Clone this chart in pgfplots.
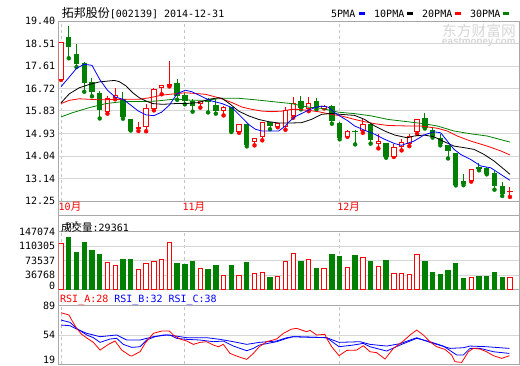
\documentclass[border=0pt]{standalone}
\usepackage{pgfplots}
\pgfplotsset{compat=1.18}
\usepackage{pgfplotstable}
\usepackage{fontspec}
\setmainfont{DejaVu Sans Mono}
\setmonofont{DejaVu Sans Mono}
\newfontfamily\cjk[Scale=1.2]{Noto Sans CJK SC}
\newfontfamily\cjks[Scale=1.05]{Noto Sans CJK SC}
\newfontfamily\wmfont{Liberation Sans}
\definecolor{kred}{RGB}{255,0,0}
\definecolor{kgreen}{RGB}{0,128,0}
\definecolor{kblue}{RGB}{0,0,255}
\definecolor{framec}{RGB}{168,168,168}
\definecolor{gridc}{RGB}{214,214,214}
\definecolor{dashc}{RGB}{196,196,196}
\definecolor{wmc}{RGB}{214,214,214}

\pgfplotstableread{
i o h l c v
0 17.06 18.54 17.06 18.54 116285
6 15.81 16.43 15.72 16.34 67512
7 16.35 16.74 16.29 16.46 61608
10 15.12 15.40 15.03 15.18 52110
11 15.22 16.09 15.02 15.92 64945
12 15.94 16.75 15.85 16.67 70079
13 16.74 16.86 16.49 16.83 77010
14 16.84 17.82 16.80 16.87 118852
18 16.14 16.22 15.96 16.20 53907
21 15.86 16.02 15.65 15.96 35938
23 15.02 15.30 14.96 15.27 35938
25 14.63 14.77 14.46 14.75 41842
26 14.83 15.39 14.66 15.35 44409
28 15.20 15.33 15.18 15.32 33371
29 15.19 15.98 15.08 15.85 71876
30 15.65 16.38 15.56 16.12 92412
32 15.93 16.39 15.82 16.12 77010
34 15.93 16.06 15.93 16.01 53907
37 14.81 15.06 14.80 15.00 56474
39 15.07 15.50 14.96 15.27 82144
41 14.55 14.92 14.34 14.61 59041
43 14.00 14.50 14.00 14.39 41072
44 14.41 14.70 14.26 14.59 41072
45 14.53 14.90 14.43 14.83 39275
46 15.03 15.52 14.92 15.47 89845
53 13.07 13.50 13.02 13.49 30804
58 12.63 12.81 12.41 12.64 29361
}\redtab

\pgfplotstableread{
i o h l c v
1 18.74 19.21 17.92 18.37 132457
2 18.06 18.50 17.57 17.72 93952
3 17.70 17.76 16.59 16.96 119622
4 16.95 17.12 16.41 16.59 98316
5 16.51 16.62 15.53 15.89 88048
8 16.29 16.57 15.52 15.61 75213
9 15.48 15.52 15.05 15.07 75213
15 16.92 17.11 16.27 16.46 64945
16 16.45 16.55 16.09 16.25 62378
17 16.22 16.30 15.80 16.06 70079
19 16.26 16.35 15.77 16.22 52110
20 16.06 16.29 15.72 15.85 59811
22 15.96 16.00 14.99 15.03 59811
24 15.27 15.32 14.42 14.50 67512
27 15.35 15.37 15.10 15.26 29777
31 16.22 16.42 15.89 15.98 70079
33 16.22 16.33 15.89 15.96 54677
35 16.01 16.06 15.32 15.45 88048
36 15.32 15.37 14.70 14.78 82914
38 15.03 15.06 14.50 15.00 85481
40 15.29 15.32 14.53 14.70 70079
42 14.53 14.57 13.97 14.02 72646
47 15.52 15.76 15.13 15.15 70079
48 15.07 15.14 14.77 14.87 44409
49 14.74 14.92 14.46 14.53 39275
50 14.46 14.47 13.94 14.24 49543
51 14.13 14.15 12.87 12.91 64945
52 13.02 13.31 12.88 12.96 29007
54 13.57 13.75 13.47 13.53 34141
55 13.56 13.59 13.31 13.33 34141
56 13.33 13.44 12.70 12.88 44409
57 12.84 12.99 12.45 12.54 31574
}\greentab

\pgfplotsset{
  panel/.style={anchor=south west, width=460.3pt, scale only axis,
    xmin=-0.3, xmax=59.17, axis line style={draw=framec, line width=0.9pt},
    major tick length=0pt, tick style={draw=none},
    every tick label/.append style={font=\fontsize{10}{12}\selectfont},
    grid style={line width=0.8pt}},
  mainp/.style={panel, at={(58.7pt,164pt)}, height=180pt, ymin=12.25, ymax=19.40},
  monthgrid/.style={xtick={0,16,36}, xmajorgrids, ymajorgrids,
    x grid style={dashc, dash pattern=on 3pt off 3pt},
    y grid style={gridc}},
}

\begin{document}
\begin{tikzpicture}[x=1pt,y=1pt]
\useasboundingbox (0,0) rectangle (520,365);

% strips between panels
\draw[framec, line width=0.9pt] (58.7,133.3) rectangle (519,164);
\draw[framec, line width=0.9pt] (58.7,149.3) -- (519,149.3);
\draw[framec, line width=0.9pt] (58.7,59.3) rectangle (519,75.5);

% watermark
\node[anchor=west, inner sep=0, text=wmc] at (442,334) {\cjk\fontsize{12.3}{14}\selectfont 东方财富网};
\node[anchor=west, inner sep=0, text=wmc] at (442,322.5) {\wmfont\bfseries\fontsize{9.8}{11}\selectfont eastmoney.com};

% main panel: frame, grid, wicks
\begin{axis}[mainp, monthgrid,
  ytick={12.25,13.14,14.04,14.93,15.83,16.72,17.61,18.51,19.40},
  yticklabels={12.25,13.14,14.04,14.93,15.83,16.72,17.61,18.51,19.40},
  xticklabels={{10{\cjks 月}},{11{\cjks 月}},{12{\cjks 月}}},
  xticklabel style={anchor=north west, xshift=-2.5pt, text=kred, inner sep=0pt, yshift=-1pt}]
\addplot[kred, only marks, mark=none, forget plot,
  error bars/.cd, y dir=plus, y explicit, error mark=none,
  error bar style={draw=kred, line width=1pt}]
  table[x=i, y=l, y error expr=\thisrow{h}-\thisrow{l}] {\redtab};
\addplot[kgreen, only marks, mark=none, forget plot,
  error bars/.cd, y dir=plus, y explicit, error mark=none,
  error bar style={draw=kgreen, line width=1pt}]
  table[x=i, y=l, y error expr=\thisrow{h}-\thisrow{l}] {\greentab};
\end{axis}

% red bodies
\begin{axis}[mainp, hide axis, ybar stacked, bar width=4.4pt]
\addplot[draw=none, fill=none] table[x=i, y=o] {\redtab};
\addplot[draw=kred, fill=white, line width=1pt] table[x=i, y expr=\thisrow{c}-\thisrow{o}] {\redtab};
\end{axis}

% green bodies
\begin{axis}[mainp, hide axis, ybar stacked, bar width=4.4pt]
\addplot[draw=none, fill=none] table[x=i, y=c] {\greentab};
\addplot[draw=kgreen, fill=kgreen, line width=1pt] table[x=i, y expr=\thisrow{o}-\thisrow{c}] {\greentab};
\end{axis}

% moving averages
\begin{axis}[mainp, hide axis]
\addplot[kgreen, line width=0.8pt] coordinates {(0,15.59)(1.51,15.76)(3.66,15.96)(5.81,16.12)(7.97,16.20)(10.12,16.20)(12.27,16.22)(14.77,16.30)(16.92,16.25)(18.65,16.25)(20.80,16.33)(22.95,16.33)(25.11,16.27)(27.26,16.20)(29.76,16.12)(31.91,15.98)(33.64,15.93)(35.79,15.78)(37.94,15.72)(40.10,15.63)(42.25,15.49)(44.75,15.40)(46.90,15.32)(48.62,15.23)(50.78,15.03)(52.93,14.92)(55.08,14.83)(58.01,14.59)};
\addplot[kred, line width=0.8pt] coordinates {(0,16.12)(1.08,16.25)(2.37,16.31)(3.66,16.29)(4.95,16.27)(7.97,16.29)(10.12,16.29)(11.41,16.35)(13.13,16.46)(14.77,16.51)(16.06,16.55)(18.65,16.49)(20.37,16.35)(22.09,16.16)(23.39,15.98)(24.68,15.89)(25.97,15.82)(27.26,15.80)(28.55,15.82)(29.76,15.89)(30.62,15.89)(31.91,15.85)(33.21,15.80)(34.93,15.69)(36.22,15.63)(37.94,15.49)(39.23,15.40)(40.53,15.32)(42.25,15.25)(44.75,15.23)(46.47,15.23)(48.62,15.14)(49.91,15.03)(51.21,14.83)(52.93,14.63)(55.08,14.43)(56.80,14.24)(58.01,14.08)};
\addplot[black, line width=0.8pt] coordinates {(0,16.15)(1.08,16.51)(2.37,16.75)(3.66,16.88)(4.95,16.98)(6.89,17.04)(7.54,16.99)(8.40,16.82)(9.26,16.55)(10.12,16.35)(10.98,16.22)(11.84,16.12)(13.13,16.09)(14.77,16.12)(16.06,16.12)(17.79,16.16)(19.08,16.29)(20.37,16.35)(20.80,16.33)(21.88,16.09)(22.95,15.82)(24.25,15.63)(25.54,15.49)(26.83,15.40)(28.12,15.35)(29.76,15.35)(31.05,15.36)(32.34,15.49)(33.64,15.69)(34.93,15.73)(36.22,15.69)(37.94,15.65)(39.23,15.49)(40.53,15.23)(41.82,15.03)(43.11,14.87)(44.75,14.76)(45.61,14.83)(46.90,14.87)(48.19,14.80)(49.48,14.61)(50.78,14.43)(52.07,14.37)(53.36,14.30)(54.65,14.10)(55.94,13.84)(57.24,13.51)(58.01,13.31)};
\addplot[kblue, line width=0.8pt] coordinates {(0,16.79)(1,17.15)(2,17.52)(3,17.68)(4,17.64)(5,17.08)(6,16.65)(7,16.38)(8,16.29)(9,16.06)(10,15.82)(11,15.67)(12,15.64)(13,15.78)(14,16.06)(14.99,16.51)(16.06,16.65)(16.92,16.59)(17.79,16.46)(18.65,16.33)(19.51,16.22)(20.80,16.12)(22.09,15.96)(23.39,15.56)(24.25,15.29)(25.11,15.10)(25.97,15.03)(27.26,15.03)(28.12,15.03)(28.99,15.23)(29.33,15.36)(30.19,15.59)(31.05,15.72)(31.91,15.85)(32.78,15.96)(33.64,16.02)(34.50,15.98)(35.36,15.76)(36.22,15.59)(37.08,15.43)(37.94,15.23)(39.23,15.06)(40.53,14.90)(41.82,14.70)(43.11,14.53)(43.97,14.46)(44.32,14.50)(45.61,14.63)(46.90,14.87)(48.19,15.00)(49.05,14.96)(49.91,14.63)(50.78,14.30)(51.64,14.10)(52.93,13.90)(54.22,13.64)(55.51,13.57)(56.80,13.31)(58.01,13.07)};
\end{axis}

% volume panel
\begin{axis}[panel, monthgrid, at={(58.7pt,75.5pt)}, height=57.8pt, ymin=0, ymax=147074,
  ytick={36768,73537,110305,147074}, yticklabels={36768,73537,110305,147074},
  xticklabels={}]
\addplot[ybar, bar width=4.4pt, bar shift=0pt, draw=kred, fill=white, line width=1pt] table[x=i, y=v] {\redtab};
\addplot[ybar, bar width=4.4pt, bar shift=0pt, draw=kgreen, fill=kgreen, line width=1pt] table[x=i, y=v] {\greentab};
\end{axis}

% RSI panel
\begin{axis}[panel, monthgrid, at={(58.7pt,0.7pt)}, height=58.6pt, ymin=19, ymax=89,
  ytick={54,89}, yticklabels={54,89}, xticklabels={}]
\addplot[kblue, line width=0.8pt] coordinates {(0,65.9)(1.16,65.1)(2.02,61.1)(3.32,56)(5.04,52)(6.33,53.2)(7.19,54)(8.48,48)(10.21,48)(11.93,52)(13.65,54)(14.51,53.2)(16.24,50.8)(18.82,50.8)(20.54,48.8)(22.27,46)(23.99,42.8)(25.62,45.2)(27.86,46.8)(29.16,50.8)(30.02,52)(34.32,50.8)(35.92,45.2)(38.63,46)(39.92,42.8)(42.08,40.8)(43.80,43.6)(45.95,50.8)(47.67,45.2)(50.26,38)(51.98,38.8)(52.84,40.8)(54.99,40)(57.93,38)};
\addplot[kblue, line width=0.8pt] coordinates {(0,71.9)(1.16,69.1)(2.02,61.9)(3.32,54)(4.18,50.8)(5.04,45.2)(6.33,49.2)(7.19,50)(8.05,42.8)(9.13,39.2)(10.21,40)(11.07,48)(12.14,52)(13.22,54)(14.08,54)(14.94,50)(16.24,48.8)(17.96,48)(19.68,46)(20.97,46.8)(22.27,40.8)(23.99,35.2)(24.85,38)(25.62,42)(27.86,46)(29.16,50)(30.02,52)(34.32,50.8)(35.92,40)(37.77,42)(39.06,44)(39.92,40)(42.08,34.8)(43.80,42)(45.95,50)(47.67,46)(49.40,40.8)(51.12,30.1)(51.98,30.1)(52.84,38)(54.13,38)(55.86,34)(57.93,32)};
\addplot[kred, line width=0.8pt] coordinates {(0,80.6)(1.03,77.9)(1.38,71.9)(2.02,61.9)(2.67,54.8)(3.40,50)(4.18,45.2)(5.04,36)(6.12,42.8)(6.98,46.8)(7.84,36)(8.91,29.3)(9.13,28.9)(10.21,34)(10.85,44)(11.93,56)(13.0,58.7)(14.0,58.7)(14.51,54)(15.37,49.2)(16.24,46.8)(17.1,42.8)(17.96,45.2)(18.82,46)(19.68,42)(20.33,40)(20.97,42.8)(21.83,32)(22.91,28.1)(23.99,24.9)(24.85,32)(25.62,40)(26.57,46)(27.86,49.2)(28.72,56)(29.80,61.1)(30.45,61.9)(31.74,57.9)(32.17,59.5)(33.03,54)(34.10,54.8)(34.32,50)(34.97,40)(35.92,29.3)(36.91,35.6)(38.20,36)(39.06,41.2)(39.92,34)(40.78,32.9)(41.86,25.3)(42.94,38)(44.23,46.8)(45.09,54)(45.95,59.9)(46.81,54)(47.67,46)(48.53,40)(49.61,36.8)(50.47,30.1)(50.90,22.1)(51.77,21.3)(52.63,34)(53.27,38)(54.13,37.2)(54.99,34)(55.86,29.3)(56.94,26.1)(57.93,29.3)};
\end{axis}

% texts
\node[anchor=west, inner sep=0] at (61.7,352) {{\cjk 拓邦股份}[002139] 2014-12-31};
\node[anchor=west, inner sep=0] at (331,351) {5PMA};
\fill[kblue] (359,350) rectangle (364.5,352.5);
\node[anchor=west, inner sep=0] at (374,351) {10PMA};
\fill[black] (407,350) rectangle (412.5,352.5);
\node[anchor=west, inner sep=0] at (422,351) {20PMA};
\fill[kred] (455,350) rectangle (460.5,352.5);
\node[anchor=west, inner sep=0] at (470,351) {30PMA};
\fill[kgreen] (503,350) rectangle (508.5,352.5);
\node[anchor=west, inner sep=0] at (61,137.5) {{\cjks 成交量}:29361};
\node[anchor=west, inner sep=0] at (60,65.5) {\textcolor{kred}{RSI\_A:28} \textcolor{kblue}{RSI\_B:32} \textcolor{kblue}{RSI\_C:38}};
\node[anchor=east, font=\fontsize{10}{12}\selectfont] at (58.7,79) {0};
\node[anchor=east, font=\fontsize{10}{12}\selectfont] at (58.7,5) {19};
\end{tikzpicture}
\end{document}
